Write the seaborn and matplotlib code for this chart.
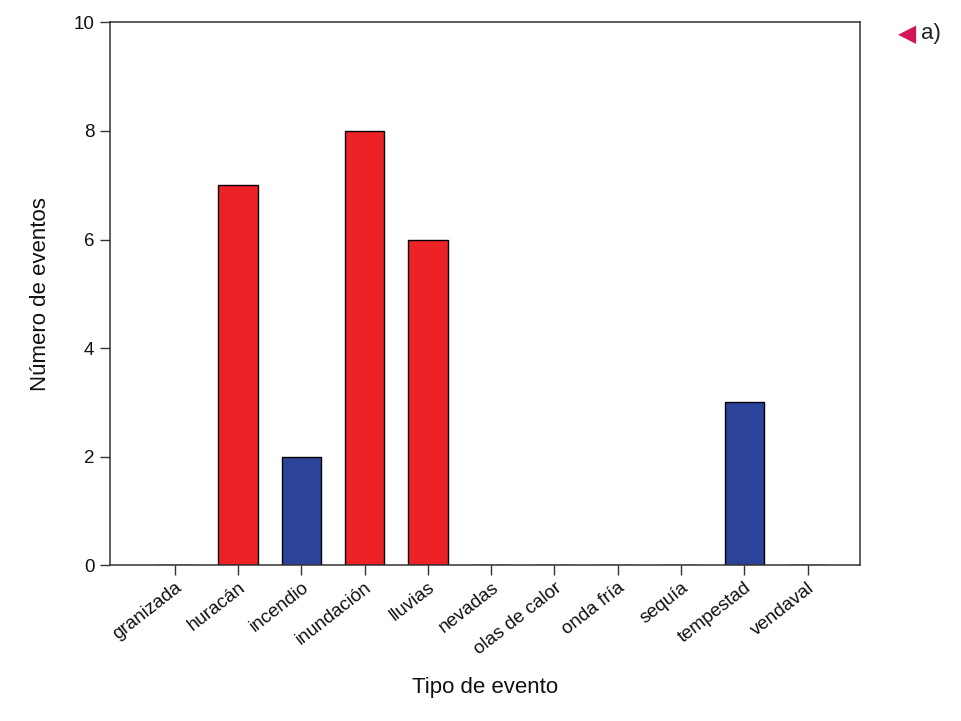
import matplotlib
matplotlib.use("Agg")
import matplotlib.pyplot as plt
import seaborn as sns
import pandas as pd

categorias = ["granizada", "huracán", "incendio", "inundación", "lluvias", "nevadas",
              "olas de calor", "onda fría", "sequía", "tempestad", "vendaval"]
eventos = [0, 7, 2, 8, 6, 0, 0, 0, 0, 3, 0]
grupo = ["rojo", "rojo", "azul", "rojo", "rojo", "rojo",
         "rojo", "azul", "azul", "azul", "azul"]
colores = {"rojo": "#EC2227", "azul": "#2C439C"}

sns.set_style("ticks")
plt.rcParams["font.family"] = ["Liberation Sans", "DejaVu Sans"]

df = pd.DataFrame({"tipo": categorias, "n": eventos, "grupo": grupo})

fig = plt.figure(figsize=(9.62, 7.21), dpi=100)
ax = fig.add_axes([0.114, 0.216, 0.780, 0.753])

sns.barplot(data=df, x="tipo", y="n", hue="grupo", palette=colores, dodge=False,
            saturation=1, width=0.62, edgecolor="black", linewidth=1.0,
            legend=False, ax=ax)

ax.set_xlim(-1.03, 10.83)
ax.set_ylim(0, 10)
ax.set_yticks([0, 2, 4, 6, 8, 10])
ax.set_xlabel("Tipo de evento", fontsize=16, labelpad=14, color="#111111")
ax.set_ylabel("Número de eventos", fontsize=16, labelpad=16, color="#111111")
ax.tick_params(axis="both", direction="out", length=7, width=1, color="#333333",
               labelsize=13.5, labelcolor="#111111")
ax.tick_params(axis="y", labelsize=13.5, pad=4)
ax.tick_params(axis="x", pad=3)
plt.setp(ax.get_xticklabels(), rotation=38, ha="right", rotation_mode="anchor")
for s in ax.spines.values():
    s.set_visible(True)
    s.set_color("#333333")
    s.set_linewidth(1.1)

fig.text(0.943, 0.953, "◀", color="#D4145A", fontsize=17, ha="center", va="center",
         family=["DejaVu Sans"])
fig.text(0.957, 0.953, "a)", color="#222222", fontsize=16, ha="left", va="center")

fig.savefig("out.png", dpi=100)
